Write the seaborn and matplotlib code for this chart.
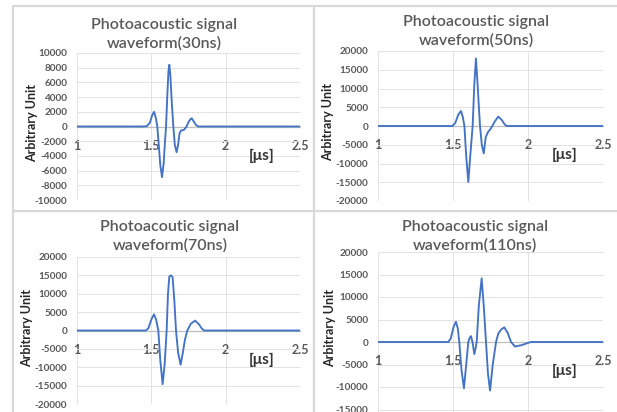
import matplotlib
matplotlib.use("Agg")
import matplotlib.pyplot as plt
import seaborn as sns
import pandas as pd
from matplotlib.lines import Line2D

# ---------------- data ----------------
t30 = [1.0, 1.45, 1.47, 1.49, 1.505, 1.518, 1.53, 1.54, 1.55, 1.56, 1.572, 1.583, 1.592, 1.599,
       1.607, 1.615, 1.621, 1.628, 1.637, 1.648, 1.658, 1.670, 1.680, 1.690, 1.700, 1.720,
       1.730, 1.737, 1.750, 1.765, 1.772, 1.785, 1.800, 1.816, 2.5]
v30 = [0, 0, 50, 500, 1500, 2000, 1200, 0, -2500, -5200, -6900, -5000, -2000, 0,
       4000, 7500, 8400, 7000, 3500, 0, -2500, -3500, -2500, -900, -550, -450,
       -200, 0, 600, 1050, 1100, 700, 200, 0, 0]

t50 = [1.0, 1.496, 1.515, 1.535, 1.553, 1.565, 1.576, 1.588, 1.602, 1.615, 1.631,
       1.642, 1.653, 1.664, 1.680, 1.692, 1.705, 1.718, 1.735, 1.750, 1.762, 1.780,
       1.802, 1.825, 1.845, 1.858, 2.5]
v50 = [0, 0, 800, 3000, 4000, 2500, 0, -8000, -14900, -8000, 0,
       11000, 18000, 11000, 0, -5000, -7300, -3000, -1500, -800, 0, 1300,
       2500, 1600, 400, 0, 0]

t70 = [1.0, 1.464, 1.48, 1.50, 1.518, 1.532, 1.547, 1.560, 1.576, 1.590, 1.603, 1.612,
       1.621, 1.632, 1.643, 1.655, 1.666, 1.680, 1.697, 1.712, 1.726, 1.742, 1.765,
       1.794, 1.820, 1.840, 1.854, 2.5]
v70 = [0, 0, 600, 3000, 4400, 3000, 0, -8000, -14600, -9000, 0, 10000,
       14700, 15000, 14500, 8000, 0, -6000, -9300, -6000, -2500, 0, 1800,
       2700, 1700, 500, 0, 0]

t110 = [1.0, 1.469, 1.485, 1.505, 1.520, 1.532, 1.542, 1.556, 1.573, 1.588, 1.602,
        1.612, 1.620, 1.630, 1.642, 1.650, 1.658, 1.672, 1.691, 1.705, 1.720, 1.733,
        1.747, 1.765, 1.787, 1.802, 1.822, 1.842, 1.865, 1.887, 1.913, 1.958, 2.0,
        2.02, 2.5]
v110 = [0, 0, 800, 3500, 4500, 3000, 0, -6000, -10300, -5000, 0,
        1000, 1300, 0, -2700, -1500, 0, 8000, 14150, 8000, 0, -7000,
        -10800, -5000, 0, 1900, 2800, 3250, 2000, 0, -1000, -700, -200,
        0, 0]

titles = ["Photoacoustic signal\nwaveform(30ns)",
          "Photoacoustic signal\nwaveform(50ns)",
          "Photoacoutic signal\nwaveform(70ns)",
          "Photoacoustic signal\nwaveform(110ns)"]
x_ticks = [1, 1.5, 2, 2.5]
x_ticklabels = ["1", "1.5", "2", "2.5"]
y_ticks_30 = list(range(-10000, 10001, 2000))
y_ticks_big = list(range(-20000, 20001, 5000))
y_label = "Arbitrary Unit"
x_unit = "[μs]"

# ---------------- layout ----------------
W, H = 617, 412
sns.set_theme(style="white")
plt.rcParams['font.family'] = ['Lato', 'DejaVu Sans']

fig = plt.figure(figsize=(W / 100, H / 100), dpi=100)

def fx(x):
    return x / W

def fy(y):
    return 1 - y / H

# panel separators
grey = "#d9d9d9"
for (x0, y0, x1, y1) in [(13, 6, 617, 6), (13, 211, 617, 211), (13, 6, 13, 412), (314, 6, 314, 412)]:
    fig.add_artist(Line2D([fx(x0), fx(x1)], [fy(y0), fy(y1)], color=grey, lw=1.6,
                          transform=fig.transFigure))

# (left px, right px, top px, bottom px, ylim, yticks, title center x, title line1 y, ylabel x, ylabel y)
panels = [
    (77, 300, 53, 200, (-10000, 10000), y_ticks_30, 164, 24, 32, 123, t30, v30),
    (378, 603, 51, 201, (-20000, 20000), y_ticks_big, 476, 21, 328, 122, t50, v50),
    (77, 300, 257, 404, (-20000, 20000), y_ticks_big, 170, 226, 27, 328, t70, v70),
    (378, 603, 252, 432, (-20000, 20000), y_ticks_big, 475, 226, 330, 328, t110, v110),
]

for i, (l, r, t, b, ylim, yt, tcx, tcy, ylx, yly, tt, vv) in enumerate(panels):
    ax = fig.add_axes([fx(l), fy(b), (r - l) / W, (b - t) / H])
    df = pd.DataFrame({"t": tt, "v": vv})
    sns.lineplot(data=df, x="t", y="v", ax=ax, color="#4472C4", lw=1.35, sort=False)
    ax.set_xlim(1, 2.5)
    ax.set_ylim(*ylim)
    ax.set_xticks(x_ticks)
    ax.set_xticklabels(x_ticklabels)
    ax.set_yticks(yt)
    ax.set_yticklabels([str(v) for v in yt])
    ax.grid(True, color="#e3e3e3", lw=0.7)
    ax.set_axisbelow(True)
    for s in ["left", "top", "right"]:
        ax.spines[s].set_visible(False)
    ax.spines["bottom"].set_position(("data", 0))
    ax.spines["bottom"].set_color("#bfbfbf")
    ax.spines["bottom"].set_linewidth(0.9)
    ax.spines["bottom"].set_zorder(1)
    ax.tick_params(axis="x", length=0, pad=9.5, labelsize=9, labelcolor="#595959")
    ax.tick_params(axis="y", length=0, pad=7, labelsize=7.2, labelcolor="#595959")
    for lab in ax.get_xticklabels() + ax.get_yticklabels():
        lab.set_fontweight("bold")
    ax.set_xlabel("")
    ax.set_ylabel("")
    ax.set_facecolor("none")
    ax.annotate(x_unit, xy=(0.83, 0), xycoords=("axes fraction", "data"),
                xytext=(0, -21), textcoords="offset points", ha="center", va="center",
                fontsize=11, fontweight="bold", color="#333333")
    fig.text(fx(tcx), fy(tcy + 10.5), titles[i], ha="center", va="center",
             fontsize=11.5, fontweight="semibold", color="#595959", linespacing=1.35)
    fig.text(fx(ylx), fy(yly), y_label, rotation=90, ha="center", va="center",
             fontsize=9, fontweight="bold", color="#262626")

fig.savefig("out.png", dpi=100)
